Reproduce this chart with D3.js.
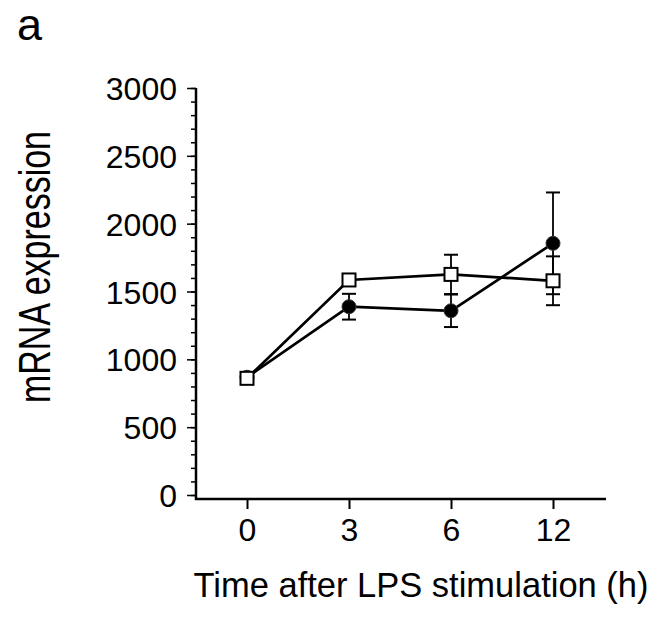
<!DOCTYPE html>
<html>
<head>
<meta charset="utf-8">
<script src="https://cdn.jsdelivr.net/npm/d3@7"></script>
<style>
  body { margin: 0; background: #fff; }
  text { font-family: "Liberation Sans", Arial, sans-serif; fill: #000; }
</style>
</head>
<body>
<svg id="chart" width="656" height="621"></svg>
<script>
// data
const times = ["0", "3", "6", "12"];
const filledMean = [868, 1388, 1358, 1855];
const filledSE = [25, 95, 120, 375];
const openMean = [860, 1585, 1626, 1579];
const openSE = [25, 30, 145, 180];
const yTicks = [0, 500, 1000, 1500, 2000, 2500, 3000];

const svg = d3.select("#chart");

const x = d3.scalePoint()
    .domain(times)
    .range([196, 604])
    .padding(0.5);

const y = d3.scaleLinear()
    .domain([0, 3000])
    .range([495, 88]);

// minor ticks
svg.append("g")
    .attr("transform", "translate(196,0)")
    .call(d3.axisLeft(y).tickValues(d3.range(0, 3001, 100)).tickSize(5).tickFormat(""))
    .call(g => g.select(".domain").remove())
    .selectAll("line").attr("stroke-width", 1.5);

// major ticks + labels
svg.append("g")
    .attr("transform", "translate(196,0)")
    .call(d3.axisLeft(y).tickValues(yTicks).tickSize(9).tickPadding(10).tickFormat(d3.format("d")))
    .call(g => g.select(".domain").remove())
    .call(g => g.selectAll("line").attr("stroke-width", 1.5))
    .call(g => g.selectAll("text").style("font-size", "32px").attr("dy", "0.36em"));

// x axis
svg.append("g")
    .attr("transform", "translate(0,499)")
    .call(d3.axisBottom(x).tickSize(10).tickPadding(9))
    .call(g => g.select(".domain").remove())
    .call(g => g.selectAll("line").attr("stroke-width", 2))
    .call(g => g.selectAll("text").style("font-size", "32px"));

// axis lines
svg.append("path")
    .attr("d", "M196,88V499H606")
    .attr("fill", "none")
    .attr("stroke", "#000")
    .attr("stroke-width", 2.5);

const filled = times.map((t, i) => ({t: t, m: filledMean[i], se: filledSE[i]}));
const open = times.map((t, i) => ({t: t, m: openMean[i], se: openSE[i]}));

const line = d3.line()
    .x(d => x(d.t))
    .y(d => y(d.m));

[filled, open].forEach(s => {
  svg.append("path")
      .datum(s)
      .attr("d", line)
      .attr("fill", "none")
      .attr("stroke", "#000")
      .attr("stroke-width", 2.7);
});

// error bars
[filled, open].forEach(s => {
  const g = svg.append("g").attr("stroke", "#000");
  g.selectAll(".stem")
    .data(s)
    .join("line")
      .attr("x1", d => x(d.t)).attr("x2", d => x(d.t))
      .attr("y1", d => y(d.m - d.se)).attr("y2", d => y(d.m + d.se))
      .attr("stroke-width", 1.8);
  g.selectAll(".cap")
    .data(s.flatMap(d => [d.m - d.se, d.m + d.se].map(v => ({t: d.t, v: v}))))
    .join("line")
      .attr("x1", d => x(d.t) - 7).attr("x2", d => x(d.t) + 7)
      .attr("y1", d => y(d.v)).attr("y2", d => y(d.v))
      .attr("stroke-width", 2);
});

// markers
svg.append("g")
  .selectAll("circle")
  .data(filled)
  .join("circle")
    .attr("cx", d => x(d.t))
    .attr("cy", d => y(d.m))
    .attr("r", 7)
    .attr("fill", "#000")
    .attr("stroke", "#333")
    .attr("stroke-width", 1);

svg.append("g")
  .selectAll("rect")
  .data(open)
  .join("rect")
    .attr("x", d => x(d.t) - 6.5)
    .attr("y", d => y(d.m) - 6.5)
    .attr("width", 13)
    .attr("height", 13)
    .attr("fill", "#fff")
    .attr("stroke", "#000")
    .attr("stroke-width", 2);

// labels
svg.append("text")
    .attr("x", 17).attr("y", 40)
    .style("font-size", "45px")
    .text("a");

svg.append("text")
    .attr("transform", "translate(50,267) rotate(-90) scale(1,1.3)")
    .attr("text-anchor", "middle")
    .style("font-size", "34px")
    .text("mRNA expression");

svg.append("text")
    .attr("x", 421).attr("y", 597)
    .attr("text-anchor", "middle")
    .style("font-size", "34.5px")
    .text("Time after LPS stimulation (h)");
</script>
</body>
</html>
